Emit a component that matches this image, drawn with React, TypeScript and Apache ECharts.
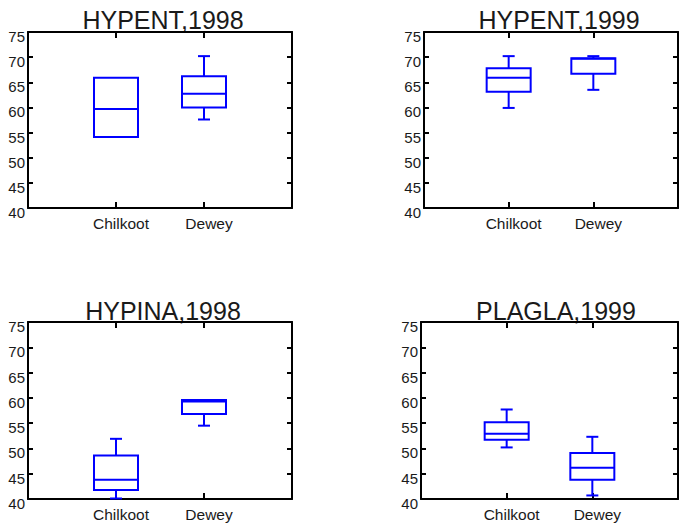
import React, { useEffect, useRef } from "react";
import * as echarts from "echarts";

const categories = ["Chilkoot", "Dewey"];
const titles = ["HYPENT,1998", "HYPENT,1999", "HYPINA,1998", "PLAGLA,1999"];
const yTicks = [40, 45, 50, 55, 60, 65, 70, 75];

// [min, q1, median, q3, max] per category
const hypent1998 = [
  [54.1, 54.1, 59.7, 65.9, 65.9],
  [57.6, 60.0, 62.7, 66.2, 70.2],
];
const hypent1999 = [
  [59.9, 63.1, 65.9, 67.8, 70.2],
  [63.5, 66.7, 69.7, 69.8, 70.2],
];
const hypina1998 = [
  [40.1, 41.8, 43.8, 48.6, 51.9],
  [54.5, 56.8, 59.3, 59.6, 59.6],
];
const plagla1999 = [
  [50.2, 51.7, 52.9, 55.2, 57.7],
  [40.7, 43.8, 46.2, 49.1, 52.3],
];
const panelsData = [hypent1998, hypent1999, hypina1998, plagla1999];

const grids = [
  { left: 28, top: 32, width: 264, height: 176 },
  { left: 424, top: 32, width: 264, height: 176 },
  { left: 28, top: 322, width: 264, height: 177 },
  { left: 421, top: 322, width: 264, height: 177 },
];
const titleTops = [7, 7, 298, 298];

const FONT = '"Liberation Sans", Arial, sans-serif';
const TEXT = "#1a1a1a";
const BLUE = "#0000ff";

export default function App() {
  const ref = useRef<HTMLDivElement>(null);
  useEffect(() => {
    if (!ref.current) return;
    const chart = echarts.init(ref.current, undefined, { renderer: "svg" });
    const xAxes: any[] = [];
    const yAxes: any[] = [];
    const series: any[] = [];
    const graphics: any[] = [];
    grids.forEach((g, i) => {
      const base = {
        gridIndex: i,
        splitLine: { show: false },
        axisLine: { show: true, onZero: false, lineStyle: { color: "#000", width: 2 } },
        axisTick: { show: true, inside: true, length: 5, lineStyle: { color: "#000", width: 2 } },
      };
      xAxes.push({
        ...base,
        type: "value",
        position: "bottom",
        min: 0,
        max: 3,
        interval: 1,
        axisTick: { ...base.axisTick, length: 6 },
        axisLabel: {
          show: true,
          margin: 7,
          fontSize: 15.5,
          fontFamily: FONT,
          color: TEXT,
          padding: [0, 0, 0, 10],
          formatter: (v: number) => categories[v - 1] ?? "",
        },
      });
      xAxes.push({
        ...base,
        type: "value",
        position: "top",
        min: 0,
        max: 3,
        interval: 1,
        axisTick: { ...base.axisTick, length: 6 },
        axisLabel: { show: false },
      });
      yAxes.push({
        ...base,
        type: "value",
        position: "left",
        min: yTicks[0],
        max: yTicks[yTicks.length - 1],
        interval: 5,
        axisLabel: {
          show: true,
          margin: 3,
          fontSize: 15,
          fontFamily: FONT,
          color: TEXT,
          verticalAlign: "top",
          lineHeight: 9,
        },
      });
      yAxes.push({
        ...base,
        type: "value",
        position: "right",
        min: yTicks[0],
        max: yTicks[yTicks.length - 1],
        interval: 5,
        axisLabel: { show: false },
      });
      const data = panelsData[i].map((d, k) => [k + 1, ...d]);
      series.push({
        type: "custom",
        xAxisIndex: i * 2,
        yAxisIndex: i * 2,
        data,
        silent: true,
        renderItem: (params: any, api: any) => {
          const x = api.value(0);
          const lo = api.coord([x, api.value(1)]);
          const q1 = api.coord([x, api.value(2)]);
          const med = api.coord([x, api.value(3)]);
          const q3 = api.coord([x, api.value(4)]);
          const hi = api.coord([x, api.value(5)]);
          const cx = lo[0];
          const hb = 22;
          const hc = 6;
          const st = { stroke: BLUE, lineWidth: 2, fill: "none" };
          const children: any[] = [];
          if (hi[1] < q3[1] - 0.5) {
            children.push(
              { type: "line", shape: { x1: cx, y1: q3[1], x2: cx, y2: hi[1] }, style: st },
              { type: "line", shape: { x1: cx - hc, y1: hi[1], x2: cx + hc, y2: hi[1] }, style: st }
            );
          }
          if (lo[1] > q1[1] + 0.5) {
            children.push(
              { type: "line", shape: { x1: cx, y1: q1[1], x2: cx, y2: lo[1] }, style: st },
              { type: "line", shape: { x1: cx - hc, y1: lo[1], x2: cx + hc, y2: lo[1] }, style: st }
            );
          }
          children.push(
            {
              type: "rect",
              shape: { x: cx - hb, y: q3[1], width: hb * 2, height: q1[1] - q3[1] },
              style: { stroke: BLUE, lineWidth: 2, fill: "none" },
            },
            { type: "line", shape: { x1: cx - hb, y1: med[1], x2: cx + hb, y2: med[1] }, style: st }
          );
          return { type: "group", children };
        },
      });
      graphics.push({
        type: "text",
        x: g.left + g.width / 2 + 3,
        y: titleTops[i],
        style: {
          text: titles[i],
          font: `25px ${FONT}`,
          fill: TEXT,
          textAlign: "center",
          textVerticalAlign: "top",
        },
      });
    });
    chart.setOption({
      animation: false,
      backgroundColor: "#ffffff",
      grid: grids.map((g) => ({ ...g, containLabel: false })),
      xAxis: xAxes,
      yAxis: yAxes,
      series,
      graphic: graphics,
    });
    return () => chart.dispose();
  }, []);
  return (
    <div
      ref={ref}
      style={{ position: "absolute", left: 0, top: 0, width: 681, height: 523, background: "#fff" }}
    />
  );
}
